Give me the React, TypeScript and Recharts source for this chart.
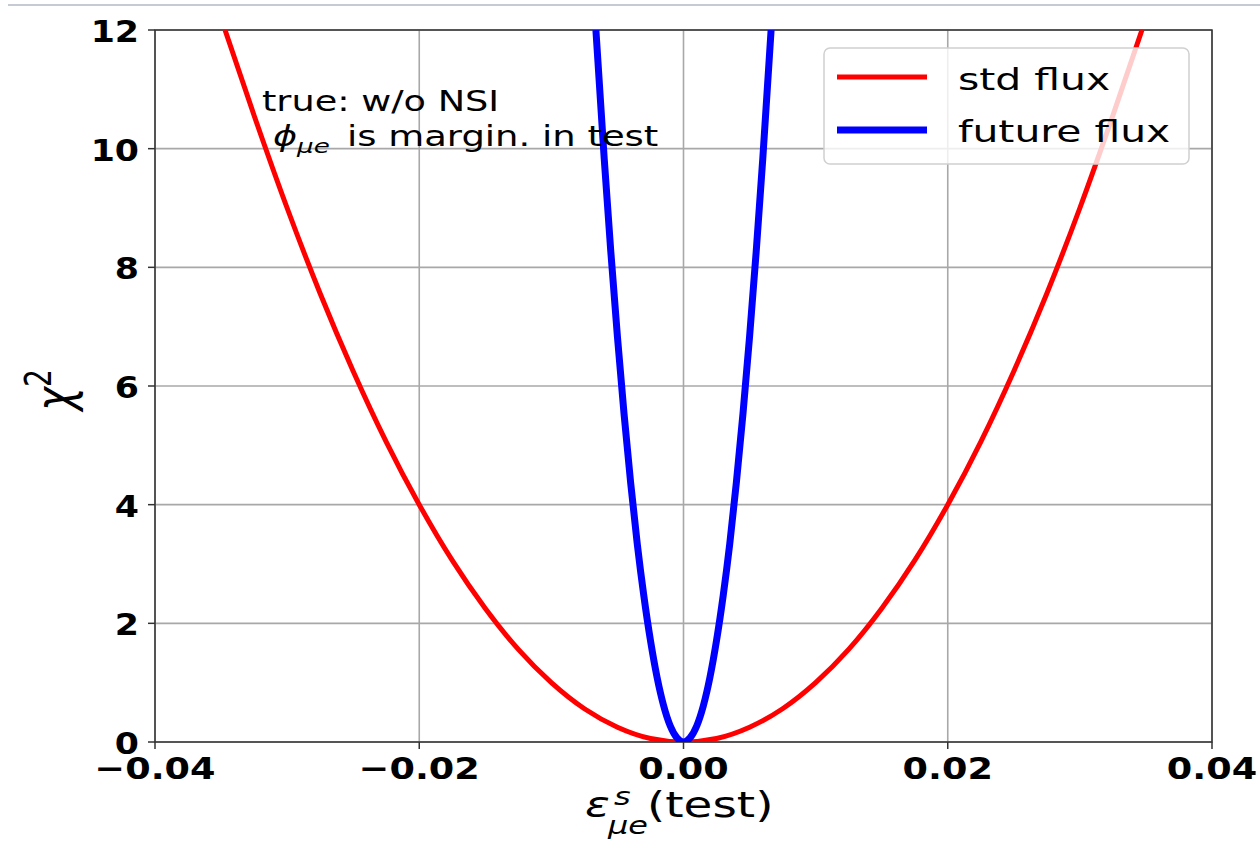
import React from 'react';
import { LineChart, Line, XAxis, YAxis, CartesianGrid, ReferenceArea } from 'recharts';

const xTicks = [-0.04, -0.02, 0, 0.02, 0.04];
const yTicks = [0, 2, 4, 6, 8, 10, 12];

const seriesNames = ['std flux', 'future flux'];
const seriesColors = ['#ff0000', '#0000ff'];

const stdX = [-0.0347, -0.0325, -0.03, -0.0275, -0.025, -0.0225, -0.02, -0.0175, -0.015, -0.0125, -0.01, -0.0075, -0.005, -0.0025, 0,
  0.0025, 0.005, 0.0075, 0.01, 0.0125, 0.015, 0.0175, 0.02, 0.0225, 0.025, 0.0275, 0.03, 0.0325, 0.0347];
const stdChi2 = [12.0, 10.56, 9.0, 7.56, 6.25, 5.06, 4.0, 3.06, 2.25, 1.56, 1.0, 0.56, 0.25, 0.06, 0,
  0.06, 0.25, 0.56, 1.0, 1.56, 2.25, 3.06, 4.0, 5.06, 6.25, 7.56, 9.0, 10.56, 12.0];

const futureX = [-0.00663, -0.006, -0.0055, -0.005, -0.0045, -0.004, -0.0035, -0.003, -0.0025, -0.002, -0.0015, -0.001, -0.0005, 0,
  0.0005, 0.001, 0.0015, 0.002, 0.0025, 0.003, 0.0035, 0.004, 0.0045, 0.005, 0.0055, 0.006, 0.00663];
const futureChi2 = [12.0, 9.83, 8.26, 6.83, 5.53, 4.37, 3.34, 2.46, 1.71, 1.09, 0.61, 0.27, 0.07, 0,
  0.07, 0.27, 0.61, 1.09, 1.71, 2.46, 3.34, 4.37, 5.53, 6.83, 8.26, 9.83, 12.0];

const stdData = stdX.map((x, i) => ({ x, chi2: stdChi2[i] }));
const futureData = futureX.map((x, i) => ({ x, chi2: futureChi2[i] }));

const FONT = 'DejaVu Sans';

const fmtX = (v: number) => {
  if (v === 0) return '0.00';
  return (v < 0 ? '\u2212' : '') + Math.abs(v).toFixed(2);
};

const XTick = (props: any) => {
  const { x, y, payload } = props;
  return (
    <text transform={`translate(${x},${y + 28}) scale(1.2,1)`} textAnchor="middle" fontSize={30.5}
      fontWeight="bold" fill="#000" fontFamily={FONT}>{fmtX(payload.value)}</text>
  );
};

const YTick = (props: any) => {
  const { x, y, payload } = props;
  return (
    <text transform={`translate(${x - 7},${y + 12}) scale(1.14,1)`} textAnchor="end" fontSize={30.5}
      fontWeight="bold" fill="#000" fontFamily={FONT}>{String(payload.value)}</text>
  );
};

const S = ({ x, y, sx = 1.28, size, italic, children, anchor }: any) => (
  <text transform={`translate(${x},${y}) scale(${sx},1)`} fontSize={size} fontFamily={FONT}
    fontStyle={italic ? 'italic' : 'normal'} fill="#000" textAnchor={anchor || 'start'}>{children}</text>
);

export default function App() {
  return (
    <div style={{ position: 'absolute', left: 0, top: 0, width: 1260, height: 853, background: '#fff', fontFamily: FONT }}>
      <div style={{ position: 'absolute', left: 8, top: 4, width: 1252, height: 2, background: '#c5cad3' }} />
      <LineChart width={1260} height={853} margin={{ top: 30, right: 48, left: 0, bottom: 0 }}>
        <CartesianGrid stroke="#a8a8a8" strokeWidth={1.6} />
        <XAxis type="number" dataKey="x" domain={[-0.04, 0.04]} ticks={xTicks} height={111}
          tick={<XTick />} tickSize={7} tickLine={{ stroke: '#333', strokeWidth: 1.5 }} axisLine={false}
          allowDataOverflow />
        <YAxis type="number" domain={[0, 12]} ticks={yTicks} width={155}
          tick={<YTick />} tickSize={7} tickLine={{ stroke: '#333', strokeWidth: 1.5 }} axisLine={false}
          allowDataOverflow />
        <Line data={stdData} dataKey="chi2" name={seriesNames[0]} type="monotone" stroke={seriesColors[0]}
          strokeWidth={5} dot={false} isAnimationActive={false} />
        <Line data={futureData} dataKey="chi2" name={seriesNames[1]} type="monotone" stroke={seriesColors[1]}
          strokeWidth={7} dot={false} isAnimationActive={false} />
        <ReferenceArea x1={-0.04} x2={0.04} y1={0} y2={12} fill="none" fillOpacity={0} stroke="#333"
          strokeWidth={1.5} ifOverflow="visible" />
      </LineChart>
      <svg width={1260} height={853} style={{ position: 'absolute', left: 0, top: 0, pointerEvents: 'none' }}>
        {/* legend */}
        <rect x={824} y={48} width={365} height={116} rx={6} fill="#fff" fillOpacity={0.8} stroke="#d0d0d0" strokeWidth={1.5} />
        <line x1={837} x2={927} y1={77} y2={77} stroke={seriesColors[0]} strokeWidth={5} />
        <line x1={837} x2={927} y1={130} y2={130} stroke={seriesColors[1]} strokeWidth={7} />
        <S x={958} y={90} size={31} sx={1.32}>{seriesNames[0]}</S>
        <S x={958} y={142} size={31} sx={1.32}>{seriesNames[1]}</S>
        {/* annotation */}
        <S x={262} y={111} size={28} sx={1.31}>true: w/o NSI</S>
        <S x={273} y={146} size={28} sx={1.31} italic>ϕ</S>
        <S x={297} y={153} size={20} sx={1.31} italic>μe</S>
        <S x={347} y={146} size={28} sx={1.32}>is margin. in test</S>
        {/* x label */}
        <S x={585} y={817} size={36} italic>ε</S>
        <S x={614} y={805} size={25} italic>s</S>
        <S x={608} y={834} size={25} italic>μe</S>
        <S x={647} y={817} size={36} sx={1.3}>(test)</S>
        {/* y label */}
        <text transform="translate(72,390) scale(1.3,1) rotate(-90)" textAnchor="middle" fontSize={40}
          fontFamily={FONT} fill="#000"><tspan fontStyle="italic">χ</tspan><tspan dy={-16} fontSize={28}>2</tspan></text>
      </svg>
    </div>
  );
}
